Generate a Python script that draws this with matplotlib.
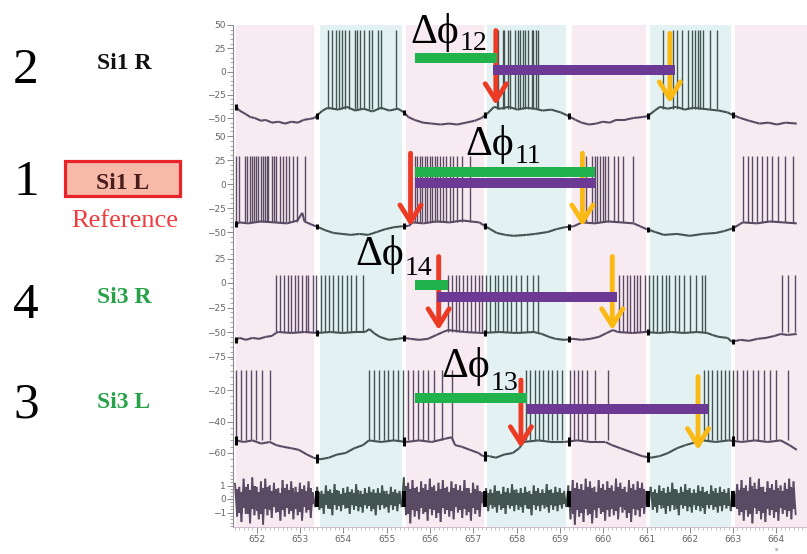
import matplotlib.pyplot as plt
import numpy as np
from matplotlib.collections import LineCollection
from matplotlib.patches import Rectangle

W, H = 807, 554
SERIF = ['Liberation Serif', 'DejaVu Serif']

PINK_BG, CYAN_BG = '#f8eaf1', '#e3f1f2'
TRACE_PINK, TRACE_CYAN = '#5b4a63', '#435451'
GREEN, PURPLE = '#22b24c', '#6c3995'
RED, YELLOW = '#ec3a24', '#fbb914'

# alternating phases behind the recordings (start, end, kind)
phases = [(651.52, 653.32, 'p'), (653.45, 655.35, 'c'), (655.44, 657.24, 'p'),
          (657.31, 659.14, 'c'), (659.27, 660.98, 'p'), (661.08, 662.96, 'c'),
          (663.04, 664.75, 'p')]
# trace colour flips at these times
switch_times = [653.38, 655.40, 657.28, 659.20, 661.03, 663.00]

# ---- Si1 R (row 2) ----
si1r_base = [(651.52, -38), (651.6, -42), (651.75, -46), (651.85, -49), (651.95, -50),
             (652.1, -53), (652.2, -52), (652.35, -55), (652.5, -54), (652.65, -56),
             (652.8, -54), (652.95, -55), (653.08, -52), (653.22, -51), (653.33, -50),
             (653.42, -46), (653.52, -42), (653.64, -39), (653.88, -41), (654.08, -38),
             (654.27, -42), (654.47, -40), (654.67, -43), (654.87, -39), (655.06, -42),
             (655.26, -40), (655.4, -44), (655.5, -49), (655.64, -52), (655.84, -55),
             (656.04, -56), (656.24, -57), (656.44, -56), (656.63, -57), (656.83, -55),
             (657.03, -53), (657.19, -50), (657.33, -45), (657.48, -38), (657.62, -40),
             (657.82, -38), (658.02, -41), (658.22, -39), (658.42, -40), (658.6, -42),
             (658.8, -41), (659.02, -44), (659.16, -47), (659.36, -52), (659.5, -55),
             (659.67, -57), (659.84, -56), (659.99, -54), (660.15, -55), (660.3, -52),
             (660.5, -52), (660.7, -50), (660.9, -49), (661.03, -48), (661.19, -42),
             (661.31, -38), (661.49, -40), (661.69, -38), (661.88, -41), (662.08, -39),
             (662.28, -40), (662.47, -41), (662.67, -42), (662.87, -44), (663.0, -47),
             (663.17, -50), (663.37, -53), (663.61, -56), (663.81, -55), (664.01, -57),
             (664.21, -55), (664.47, -56)]
si1r_spikes = [653.65, 653.74, 653.84, 653.90, 653.96, 654.04, 654.14, 654.26, 654.32,
               654.38, 654.48, 654.59, 654.66, 654.80, 654.86, 655.22,
               657.54, 657.58, 657.68, 657.72, 657.80, 657.84, 657.96, 658.04, 658.07,
               658.14, 658.19, 658.27, 658.35, 658.38, 658.45, 658.49,
               661.38, 661.62, 661.70, 661.81, 661.96, 662.04, 662.11, 662.19, 662.23,
               662.31, 662.46, 662.62]

# ---- Si1 L (row 1, reference) ----
si1l_base = [(651.52, -42), (651.6, -40), (651.8, -41), (652.1, -39), (652.4, -40),
             (652.7, -41), (652.94, -38), (653.05, -30), (653.1, -39), (653.25, -42),
             (653.42, -45), (653.57, -48), (653.77, -51), (653.97, -52), (654.17, -53),
             (654.37, -52), (654.57, -53), (654.77, -50), (654.97, -47), (655.17, -45),
             (655.37, -44), (655.5, -44), (655.6, -40), (655.85, -41), (656.15, -39),
             (656.45, -40), (656.75, -38), (656.94, -39), (657.14, -40), (657.24, -43),
             (657.39, -47), (657.54, -51), (657.74, -53), (657.93, -54), (658.23, -53),
             (658.43, -52), (658.72, -50), (658.92, -47), (659.12, -45), (659.32, -44),
             (659.51, -40), (659.81, -41), (660.11, -39), (660.41, -40), (660.7, -41),
             (660.85, -44), (661.0, -47), (661.2, -50), (661.4, -53), (661.7, -52),
             (662.0, -54), (662.3, -52), (662.6, -51), (662.8, -49), (663.0, -46),
             (663.15, -42), (663.22, -40), (663.55, -41), (663.85, -39), (664.15, -40),
             (664.47, -41)]
si1l_spikes = [651.53, 651.58, 651.72, 651.77, 651.84, 651.89, 651.94, 651.99, 652.03,
               652.09, 652.15, 652.19, 652.23, 652.26, 652.34, 652.40, 652.45, 652.53,
               652.60, 652.68, 652.74, 652.84, 652.92, 653.11,
               655.65, 655.71, 655.77, 655.82, 655.88, 655.94, 655.99, 656.05, 656.11,
               656.17, 656.23, 656.30, 656.38, 656.46, 656.53, 656.62, 656.73, 656.92,
               659.52, 659.61, 659.73, 659.81, 659.86, 659.92, 659.99, 660.04, 660.12,
               660.24, 660.35, 660.46, 660.69,
               663.22, 663.34, 663.43, 663.55, 663.66, 663.78, 663.89, 664.03, 664.19,
               664.38]

# ---- Si3 R (row 4) ----
si3r_base = [(651.52, -58), (651.6, -56), (651.75, -58), (651.9, -56), (652.05, -57),
             (652.2, -55), (652.35, -54), (652.44, -51), (652.5, -50), (652.8, -51),
             (653.1, -50), (653.4, -51), (653.7, -50), (653.98, -51), (654.27, -50),
             (654.5, -50), (654.6, -47), (654.7, -51), (654.84, -55), (655.05, -58),
             (655.25, -57), (655.4, -56), (655.55, -57), (655.75, -58), (655.95, -57),
             (656.15, -53), (656.3, -50), (656.42, -48), (656.8, -50), (657.2, -51),
             (657.6, -50), (658.0, -51), (658.4, -50), (658.58, -52), (658.75, -55),
             (658.9, -57), (659.1, -58), (659.3, -57), (659.5, -58), (659.7, -57),
             (659.9, -55), (660.08, -51), (660.23, -48), (660.33, -50), (660.68, -51),
             (660.98, -50), (661.28, -51), (661.58, -50), (661.87, -51), (662.17, -50),
             (662.4, -51), (662.52, -53), (662.67, -55), (662.87, -56), (662.97, -60),
             (663.17, -58), (663.37, -59), (663.56, -57), (663.76, -56), (663.96, -54),
             (664.1, -52), (664.25, -53), (664.47, -52)]
si3r_spikes = [652.45, 652.53, 652.63, 652.71, 652.78, 652.88, 652.96, 653.05, 653.13,
               653.19, 653.30, 653.37, 653.48, 653.57, 653.66, 653.76, 653.87, 653.96,
               654.08, 654.18, 654.30, 654.45,
               656.42, 656.51, 656.59, 656.68, 656.76, 656.85, 656.94, 657.03, 657.12,
               657.21, 657.29, 657.39, 657.49, 657.58, 657.68, 657.78, 657.88, 657.99,
               658.11, 658.24, 658.37, 658.50,
               660.37, 660.46, 660.54, 660.62, 660.71, 660.78, 660.86, 660.96, 661.06,
               661.15, 661.24, 661.35, 661.44, 661.53, 661.65, 661.75, 661.86, 662.01,
               662.15, 662.27, 662.35,
               664.12, 664.27, 664.43]

# ---- Si3 L (row 3) ----
si3l_base = [(651.52, -52), (651.7, -53), (651.9, -52), (652.1, -54), (652.3, -53),
             (652.45, -55), (652.6, -56), (652.8, -57), (652.97, -58), (653.16, -61),
             (653.31, -63), (653.46, -64), (653.66, -63), (653.85, -61), (654.05, -60),
             (654.25, -57), (654.45, -55), (654.59, -52), (654.87, -53), (655.16, -52),
             (655.45, -53), (655.75, -52), (656.04, -53), (656.34, -51), (656.5, -50),
             (656.58, -55), (656.73, -56), (656.92, -58), (657.12, -60), (657.22, -62),
             (657.37, -62), (657.52, -63), (657.71, -61), (657.91, -60), (658.06, -57),
             (658.16, -53), (658.5, -52), (658.8, -53), (659.1, -53), (659.4, -52),
             (659.7, -53), (660.05, -53), (660.2, -55), (660.4, -57), (660.7, -60),
             (660.9, -62), (661.1, -63), (661.3, -62), (661.5, -60), (661.7, -57),
             (661.9, -55), (662.15, -53), (662.3, -52), (662.6, -53), (662.9, -52),
             (663.2, -53), (663.5, -52), (663.8, -53), (664.1, -52), (664.3, -55),
             (664.47, -58)]
si3l_spikes = [651.53, 651.63, 651.74, 651.86, 651.97, 652.11, 652.30,
               654.59, 654.70, 654.82, 654.94, 655.03, 655.14, 655.26, 655.38, 655.49,
               655.60, 655.72, 655.84, 655.95, 656.09, 656.27, 656.51,
               658.22, 658.32, 658.42, 658.52, 658.62, 658.72, 658.82, 658.93, 659.04,
               659.23, 659.32, 659.42, 659.52, 659.63, 659.81, 660.11,
               662.32, 662.42, 662.52, 662.62, 662.71, 662.81, 662.91, 663.00, 663.09,
               663.22, 663.32, 663.45, 663.58, 663.71, 663.85, 663.99, 664.27]

# ---- bottom trace: swing of the fast signal, sampled every 0.1 s from 651.52 ----
noise_hi = [1.2, 0.9, 1.5, 1.1, 1.6, 0.9, 1.3, 1.5, 1.0, 1.2, 0.8, 1.4, 1.1, 1.3, 0.9, 1.2, 1.0, 1.3,
            0.5,
            0.9, 0.6, 1.0, 0.7, 1.1, 0.6, 0.8, 0.9, 0.7, 1.1, 0.6, 0.8, 0.9, 0.7, 0.8, 1.0, 0.6, 0.9, 0.7,
            0.6,
            1.6, 1.2, 1.4, 0.9, 1.3, 1.1, 1.5, 1.0, 1.2, 1.4, 0.9, 1.3, 1.1, 1.0, 1.4, 0.8, 1.2, 1.0,
            0.5,
            0.8, 0.7, 1.0, 0.6, 0.9, 0.8, 1.1, 0.7, 0.8, 0.9, 0.6, 1.0, 0.8, 0.7, 1.1, 0.7, 0.9, 0.8,
            0.6,
            1.0, 1.4, 1.2, 1.1, 1.5, 1.3, 0.9, 1.4, 1.1, 1.3, 1.0, 1.5, 1.2, 0.9, 1.4, 1.1, 1.3, 1.2,
            0.6,
            0.9, 0.7, 1.0, 0.8, 0.9, 1.2, 0.7, 0.9, 1.1, 0.8, 0.7, 1.0, 0.9, 0.6, 1.0, 0.8, 0.9, 0.7, 0.8,
            0.6,
            1.1, 1.4, 1.0, 1.6, 1.2, 1.5, 0.9, 1.3, 1.1, 1.4, 1.0, 1.2, 1.5, 1.3]
noise_lo = [-1.3, -1.7, -1.1, -1.8, -1.2, -1.5, -1.9, -1.2, -1.4, -1.0, -1.6, -1.3, -1.1, -1.5, -1.2, -1.6, -1.0, -1.4,
            -0.6,
            -0.8, -1.1, -0.7, -1.2, -0.8, -0.9, -0.7, -1.1, -0.8, -0.9, -1.0, -0.7, -0.9, -1.2, -0.8, -0.7, -1.0, -0.8, -0.9,
            -0.6,
            -1.2, -1.8, -1.3, -1.5, -1.1, -1.6, -1.2, -1.4, -1.7, -1.1, -1.3, -1.5, -1.0, -1.4, -1.2, -1.6, -1.1, -1.3,
            -0.5,
            -0.9, -0.7, -1.0, -0.8, -1.1, -0.7, -0.9, -0.8, -1.0, -0.7, -1.2, -0.8, -0.9, -0.7, -1.0, -0.8, -0.9, -0.7,
            -0.6,
            -1.5, -1.9, -1.3, -1.7, -1.2, -1.8, -1.4, -1.1, -1.6, -1.3, -1.2, -1.5, -1.0, -1.4, -1.7, -1.2, -1.3, -1.1,
            -0.6,
            -0.8, -1.0, -0.7, -1.1, -0.9, -0.8, -1.2, -0.7, -0.9, -1.0, -0.8, -0.9, -1.1, -0.7, -0.8, -1.0, -0.9, -0.7, -0.9,
            -0.6,
            -1.2, -1.6, -1.3, -1.8, -1.1, -1.5, -1.7, -1.2, -1.4, -1.6, -1.1, -1.3, -1.5, -1.2]
noise_t0, noise_dt = 651.52, 0.1

# phase-lag bars and onset arrows per row: (green x0, x1, y), (purple x0, x1, y), red (x, top, tip), yellow (x, top, tip)
lag_bars = {
    'si1r': dict(green=(655.65, 657.54, 14.5), purple=(657.45, 661.65, 1.6),
                 red=(657.52, 44, -36), yellow=(661.54, 41, -34)),
    'si1l': dict(green=(655.65, 659.81, 12.8), purple=(655.65, 659.81, 1.0),
                 red=(655.55, 32, -44), yellow=(659.52, 32, -44)),
    'si3r': dict(green=(655.65, 656.42, -1.7), purple=(656.15, 660.32, -14),
                 red=(656.20, 27, -48), yellow=(660.21, 27, -48)),
    'si3l': dict(green=(655.65, 658.24, -24.9), purple=(658.24, 662.42, -31.9),
                 red=(658.10, -13.7, -56.8), yellow=(662.19, -11.5, -58)),
}

# panel placement in pixels: top, bottom, pixel of reference value, ref value, px per unit
panel_geom = {
    'si1r': (25, 131, 25, 50, 0.93),
    'si1l': (131, 245, 184, 0, 0.96),
    'si3r': (245, 358, 283, 0, 0.98),
    'si3l': (358, 470, 390, -20, 1.575),
    'bottom': (470, 527, 499, 0, 13.5),
}
y_major = {'si1r': [50, 25, 0, -25, -50], 'si1l': [50, 25, 0, -25, -50],
           'si3r': [25, 0, -25, -50, -75], 'si3l': [-20, -40, -60], 'bottom': [1, 0, -1]}
y_minor = {'si1r': 5, 'si1l': 5, 'si3r': 5, 'si3l': 4, 'bottom': 0.25}

X0, X1 = 233, 807
PX_PER_S = 43.3
xlim = (651.45, 651.45 + (X1 - X0) / PX_PER_S)


def trace_color(t):
    return TRACE_CYAN if np.searchsorted(switch_times, t) % 2 else TRACE_PINK


def make_axes(fig, key):
    top, bottom, ref_px, ref_val, ppu = panel_geom[key]
    ax = fig.add_axes([X0 / W, 1 - bottom / H, (X1 - X0) / W, (bottom - top) / H])
    ax.set_xlim(*xlim)
    ax.set_ylim(ref_val - (bottom - ref_px) / ppu, ref_val + (ref_px - top) / ppu)
    for s0, s1, kind in phases:
        ax.axvspan(s0, s1, color=PINK_BG if kind == 'p' else CYAN_BG, lw=0, zorder=0)
    for side in ('top', 'right', 'bottom'):
        ax.spines[side].set_visible(False)
    ax.spines['left'].set_color('#8a8a8a')
    ax.spines['left'].set_linewidth(0.8)
    ax.set_yticks(y_major[key])
    ax.yaxis.set_minor_locator(plt.MultipleLocator(y_minor[key]))
    ax.tick_params(axis='y', which='major', labelsize=6.5, labelcolor='#666', color='#888',
                   length=4, width=0.7, pad=1)
    ax.tick_params(axis='y', which='minor', color='#888', length=2, width=0.5)
    ax.tick_params(axis='x', which='both', bottom=False, labelbottom=False)
    return ax


def draw_trace(ax, base, spikes, spike_base, spike_peak):
    pts = np.array(base, dtype=float)
    segs = np.stack([pts[:-1], pts[1:]], axis=1)
    mids = (pts[:-1, 0] + pts[1:, 0]) / 2
    ax.add_collection(LineCollection(segs, colors=[trace_color(m) for m in mids],
                                     linewidths=1.5, zorder=3))
    ax.vlines(spikes, spike_base, spike_peak, colors=[trace_color(s) for s in spikes],
              lw=1.0, zorder=3)
    # black phase-switch marks sitting on the trace, plus one at the start
    marks = [pts[0, 0]] + switch_times
    yv = np.interp(marks, pts[:, 0], pts[:, 1])
    ax.vlines(marks, yv - 3, yv + 3, color='black', lw=2.2, zorder=4)


def draw_lags(ax, spec):
    g0, g1, gy = spec['green']
    p0, p1, py = spec['purple']
    for (x, top, tip), col in ((spec['red'], RED), (spec['yellow'], YELLOW)):
        ax.annotate('', xy=(x, tip), xytext=(x, top), annotation_clip=False, zorder=5,
                    arrowprops=dict(arrowstyle='->,head_length=0.6,head_width=0.38',
                                    color=col, lw=3.5, mutation_scale=20,
                                    shrinkA=0, shrinkB=0))
    ax.hlines(gy, g0, g1, color=GREEN, lw=7.2, zorder=6)
    ax.hlines(py, p0, p1, color=PURPLE, lw=7.2, zorder=6)


fig = plt.figure(figsize=(W / 100, H / 100), dpi=100)

traces = {
    'si1r': (si1r_base, si1r_spikes, -40, 45),
    'si1l': (si1l_base, si1l_spikes, -40, 29),
    'si3r': (si3r_base, si3r_spikes, -50, 8),
    'si3l': (si3l_base, si3l_spikes, -52, -7),
}
for key, (base, spikes, sb, sp) in traces.items():
    ax = make_axes(fig, key)
    draw_trace(ax, base, spikes, sb, sp)
    draw_lags(ax, lag_bars[key])

# bottom fast-signal trace: dense core band plus a zig-zag reaching each sample's swing
axb = make_axes(fig, 'bottom')
hi = np.array(noise_hi)
lo = np.array(noise_lo)
nt = noise_t0 + noise_dt * np.arange(len(hi))
seg_idx = np.searchsorted(switch_times, nt)
for k in range(len(switch_times) + 1):
    m = seg_idx == k
    axb.fill_between(nt[m], 0.6 * lo[m], 0.6 * hi[m], step='mid', lw=0,
                     color=TRACE_CYAN if k % 2 else TRACE_PINK, zorder=3)
zz_t = np.column_stack([nt - noise_dt / 4, nt + noise_dt / 4]).ravel()
zz_v = np.column_stack([hi, lo]).ravel()
zz_pts = np.column_stack([zz_t, zz_v])
zz_segs = np.stack([zz_pts[:-1], zz_pts[1:]], axis=1)
axb.add_collection(LineCollection(zz_segs, colors=[trace_color(t) for t in zz_t[:-1]],
                                  linewidths=1.3, zorder=3))
axb.vlines(switch_times, -0.6, 0.6, color='black', lw=2.8, zorder=4)
axb.spines['bottom'].set_visible(True)
axb.spines['bottom'].set_color('#c9b3c6')
axb.spines['bottom'].set_linewidth(0.6)
axb.set_xticks(np.arange(652, 665))
axb.xaxis.set_minor_locator(plt.MultipleLocator(0.1))
axb.tick_params(axis='x', which='major', bottom=True, labelbottom=True, labelsize=6.5,
                labelcolor='#666', color='#888', length=4, width=0.7, pad=2)
axb.tick_params(axis='x', which='minor', bottom=True, color='#b9a3b6', length=2, width=0.5)
fig.text(776 / W, 1 - 551 / H, 's', fontsize=4.5, color='#666', ha='center', va='baseline')


def ftext(x, y, s, **kw):
    fig.text(x / W, 1 - y / H, s, **kw)


# phase-lag labels
phi_labels = [('12', 410, 43, 460, 50), ('11', 465, 155, 515, 163),
              ('14', 355, 265, 405, 275), ('13', 441, 377, 491, 390)]
for sub, x, y, sx, sy in phi_labels:
    ftext(x, y, 'Δϕ', fontsize=30, family=SERIF, va='baseline', ha='left', zorder=10)
    ftext(sx, sy, sub, fontsize=20, family=SERIF, va='baseline', ha='left', zorder=10)

# row numbers and cell names
for num, y in (('2', 83), ('1', 195), ('4', 318), ('3', 418)):
    ftext(26, y, num, fontsize=37, family=SERIF, ha='center', va='baseline')

fig.patches.append(Rectangle((65 / W, 1 - 196 / H), 115 / W, 35 / H, transform=fig.transFigure,
                             facecolor='#f7baa9', edgecolor='#e8242a', lw=2.3))
ftext(124, 69, 'Si1 R', fontsize=17, family=SERIF, weight='bold', color='#111',
      ha='center', va='baseline')
ftext(123, 189, 'Si1 L', fontsize=17, family=SERIF, weight='bold', color='#4a1c1c',
      ha='center', va='baseline')
ftext(125, 227, 'Reference', fontsize=19, family=SERIF, color='#f03c3c',
      ha='center', va='baseline')
ftext(124, 303, 'Si3 R', fontsize=17, family=SERIF, weight='bold', color='#27a24a',
      ha='center', va='baseline')
ftext(124, 408, 'Si3 L', fontsize=17, family=SERIF, weight='bold', color='#27a24a',
      ha='center', va='baseline')

fig.savefig('out.png', dpi=100)
